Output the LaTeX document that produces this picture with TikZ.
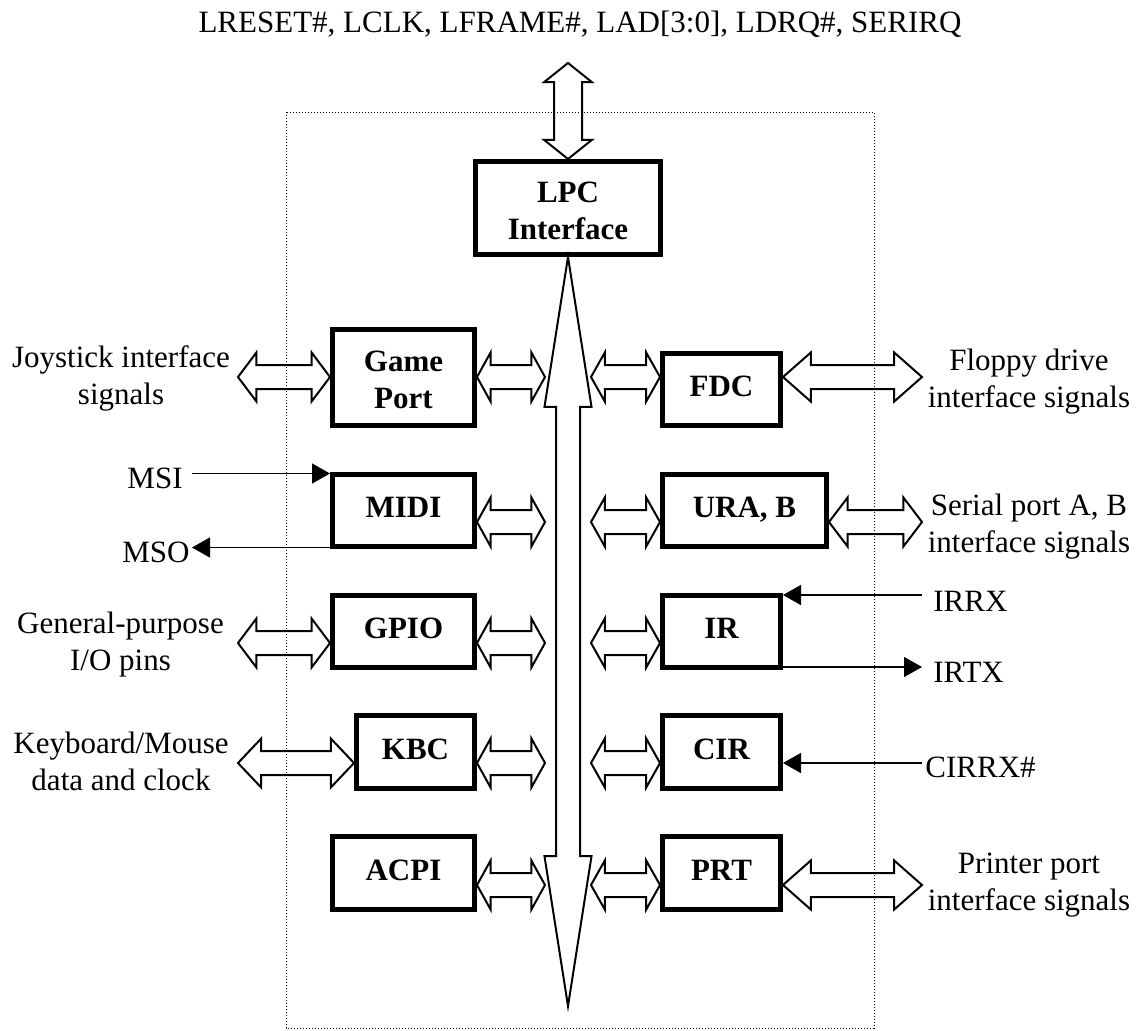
\documentclass[tikz,border=0pt]{standalone}
\usepackage{fontspec}
\setmainfont{Liberation Serif}
\usetikzlibrary{arrows.meta,calc}
\begin{document}
\begin{tikzpicture}[x=0.5pt,y=-0.5pt,
  box/.style={draw, line width=2.5pt, inner sep=0pt,
    font=\fontsize{15.5pt}{18.5pt}\selectfont\bfseries, text height=7pt, text depth=0pt},
  box2/.style={box, text height=0pt, text depth=6pt},
  txt/.style={inner sep=0pt, font=\fontsize{15.5pt}{18.5pt}\selectfont},
  blk/.style={line width=1pt, line join=miter},
  sig/.style={line width=0.7pt, -{Triangle[length=9pt,width=10pt]}},
  frame/.style={line width=0.5pt, dash pattern=on 0.5pt off 1pt},
  hdarrow/.style 2 args={to path={let \p1=(\tikztostart), \p2=(\tikztotarget), \n1={0.2*(\x2-\x1)} in
    (\x1,\y1) -- (\x1+\n1,\y1+#1) -- (\x1+\n1,\y1+#2) -- (\x2-\n1,\y1+#2) -- (\x2-\n1,\y1+#1)
    -- (\x2,\y1) -- (\x2-\n1,\y1-#1) -- (\x2-\n1,\y1-#2) -- (\x1+\n1,\y1-#2) -- (\x1+\n1,\y1-#1) -- cycle}},
  vdarrow/.style 2 args={to path={let \p1=(\tikztostart), \p2=(\tikztotarget), \n1={0.2*(\y2-\y1)} in
    (\x1,\y1) -- (\x1+#1,\y1+\n1) -- (\x1+#2,\y1+\n1) -- (\x1+#2,\y2-\n1) -- (\x1+#1,\y2-\n1)
    -- (\x1,\y2) -- (\x1-#1,\y2-\n1) -- (\x1-#2,\y2-\n1) -- (\x1-#2,\y1+\n1) -- (\x1-#1,\y1+\n1) -- cycle}},
  ha/.style={hdarrow={12.25pt}{6pt}},
]
\useasboundingbox (0,0) rectangle (1137,1030);

% title and outer frame
\node[txt, anchor=base] (title) at (580,32) {LRESET\#, LCLK, LFRAME\#, LAD[3:0], LDRQ\#, SERIRQ};
\draw[frame] (286,112) rectangle (874,1028);

% blocks
\node[box2, minimum width=92.5pt, minimum height=46.5pt] (lpc) at (568,208)
  {\begin{tabular}[t]{@{}c@{}}LPC\\Interface\end{tabular}};
\node[box2, minimum width=71pt, minimum height=48pt] (gp) at (403.5,377.5)
  {\begin{tabular}[t]{@{}c@{}}Game\\Port\end{tabular}};
\node[box, minimum width=71pt, minimum height=36pt] (midi) at (403.5,510.5) {MIDI};
\node[box, minimum width=71pt, minimum height=36pt] (gpio) at (403.5,631.5) {GPIO};
\node[box, minimum width=59pt, minimum height=36.5pt] (kbc) at (415.5,752) {KBC};
\node[box, minimum width=71pt, minimum height=36.5pt] (acpi) at (403.5,873) {ACPI};
\node[box, minimum width=59pt, minimum height=36pt] (fdc) at (721.5,389.5) {FDC};
\node[box, minimum width=82pt, minimum height=36pt] (ura) at (744.5,510.5) {URA, B};
\node[box, minimum width=59pt, minimum height=36pt] (ir) at (721.5,631.5) {IR};
\node[box, minimum width=59pt, minimum height=36.5pt] (cir) at (721.5,752) {CIR};
\node[box, minimum width=59pt, minimum height=36.5pt] (prt) at (721.5,873) {PRT};

% side texts
\node[txt, anchor=base] (joy) at (121,367)
  {\begin{tabular}[t]{@{}c@{}}Joystick interface\\signals\end{tabular}};
\node[txt, anchor=base] (gpt) at (120.5,633)
  {\begin{tabular}[t]{@{}c@{}}General-purpose\\I/O pins\end{tabular}};
\node[txt, anchor=base] (kbd) at (121,753)
  {\begin{tabular}[t]{@{}c@{}}Keyboard/Mouse\\data and clock\end{tabular}};
\node[txt, anchor=base] (fdt) at (1029,370)
  {\begin{tabular}[t]{@{}c@{}}Floppy drive\\interface signals\end{tabular}};
\node[txt, anchor=base] (sert) at (1029,515)
  {\begin{tabular}[t]{@{}c@{}}Serial port A, B\\interface signals\end{tabular}};
\node[txt, anchor=base] (prtt) at (1029,873)
  {\begin{tabular}[t]{@{}c@{}}Printer port\\interface signals\end{tabular}};
\node[txt, anchor=base east, inner xsep=4.5pt] (msi) at (192,488) {MSI};
\node[txt, anchor=base east, inner xsep=1pt] (mso) at (192,562) {MSO};
\node[txt, anchor=base west, inner xsep=5.5pt] (irrx) at (922,611) {IRRX};
\node[txt, anchor=base west, inner xsep=5.5pt] (irtx) at (922,682) {IRTX};
\node[txt, anchor=base west, inner xsep=1.5pt] (cirrx) at (922,777) {CIRRX\#};

% helper coordinates
\coordinate (xL) at (238,0);
\coordinate (xR) at (922,0);
\coordinate (bL) at (545,0);
\coordinate (bR) at (591,0);
\coordinate (r1) at (0,377);
\coordinate (r2) at (0,522);
\coordinate (r3) at (0,643);
\coordinate (r4) at (0,763);
\coordinate (r5) at (0,885);
\coordinate (msiy) at (0,473.5);
\coordinate (msoy) at (0,547.5);
\coordinate (irrxy) at (0,595);
\coordinate (irtxy) at (0,667);
\coordinate (top) at (568,63);
\coordinate (bot) at (568,1006);

% LPC bus arrows
\draw[blk] (top) to[vdarrow={12pt}{7pt}] (lpc.north);
\draw[blk] (lpc.south) to[vdarrow={11.75pt}{6pt}] (bot);

% block arrows
\draw[blk] (xL |- r1) to[ha] (gp.west |- r1);
\draw[blk] (gp.east |- r1) to[ha] (bL |- r1);
\draw[blk] (bR |- r1) to[ha] (fdc.west |- r1);
\draw[blk] (fdc.east |- r1) to[ha] (xR |- r1);

\draw[blk] (midi.east |- r2) to[ha] (bL |- r2);
\draw[blk] (bR |- r2) to[ha] (ura.west |- r2);
\draw[blk] (ura.east |- r2) to[ha] (xR |- r2);

\draw[blk] (xL |- r3) to[ha] (gpio.west |- r3);
\draw[blk] (gpio.east |- r3) to[ha] (bL |- r3);
\draw[blk] (bR |- r3) to[ha] (ir.west |- r3);

\draw[blk] (xL |- r4) to[ha] (kbc.west |- r4);
\draw[blk] (kbc.east |- r4) to[ha] (bL |- r4);
\draw[blk] (bR |- r4) to[ha] (cir.west |- r4);

\draw[blk] (acpi.east |- r5) to[ha] (bL |- r5);
\draw[blk] (bR |- r5) to[ha] (prt.west |- r5);
\draw[blk] (prt.east |- r5) to[ha] (xR |- r5);

% signal lines
\draw[sig] (msi.east |- msiy) -- (midi.west |- msiy);
\draw[sig] (midi.west |- msoy) -- (mso.east |- msoy);
\draw[sig] (irrx.west |- irrxy) -- (ir.east |- irrxy);
\draw[sig] (ir.east |- irtxy) -- (irtx.west |- irtxy);
\draw[sig] (cirrx.west |- r4) -- (cir.east |- r4);
\end{tikzpicture}
\end{document}
